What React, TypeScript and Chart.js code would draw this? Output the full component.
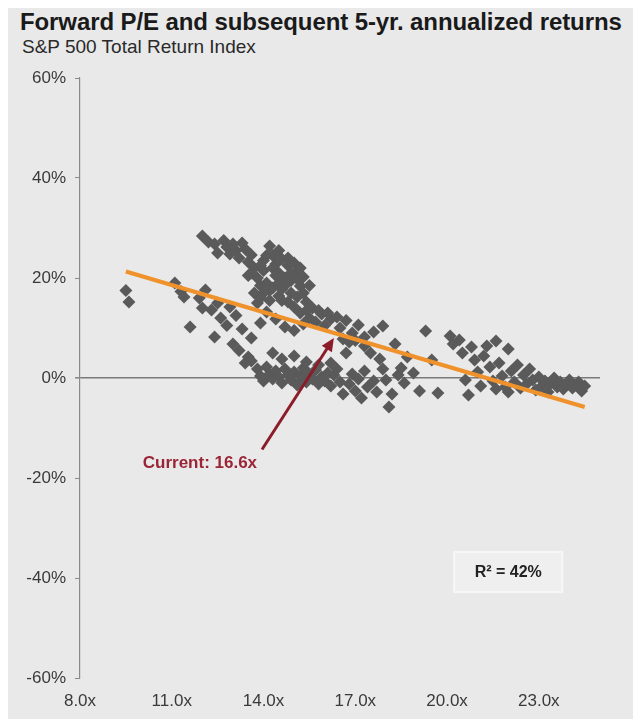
import React, { useEffect, useRef } from "react";
import { Chart, registerables } from "chart.js";

Chart.register(...registerables);

// Forward P/E (x) and subsequent 5-yr annualized return in % (y)
const peX = [
  9.5, 9.6,
  11.1, 11.3, 11.4, 11.6, 11.9, 12.1, 12.0, 12.3, 12.4, 12.5, 12.6, 12.8, 12.9, 13.0, 13.1, 13.2, 13.3, 13.5, 13.6, 13.4,
  12.0, 12.2, 12.4, 12.5, 12.7, 12.8, 12.9, 13.0, 13.1, 13.2, 13.3, 13.4, 13.5, 13.6, 13.7, 13.5, 13.8, 13.9, 14.0, 14.1,
  14.2, 14.3, 14.4, 14.5, 14.6, 14.7, 14.8, 14.9, 15.0, 15.1, 15.2, 15.3, 14.0, 14.2, 14.3, 14.5, 14.6, 14.8, 14.9, 15.0,
  15.1, 15.2, 15.4, 15.5, 15.6, 15.7, 15.9, 16.0, 13.8, 14.1, 13.9, 14.4, 14.7, 15.0, 15.3, 16.2, 16.4, 16.5, 16.7, 16.9,
  17.1, 17.3, 17.0, 16.8,
  14.0, 14.3, 14.5, 14.7, 14.9, 15.1, 14.4, 14.6, 14.2, 13.9, 13.7, 15.3, 15.5, 14.8, 14.5, 14.1, 13.9, 13.6, 15.2, 15.4,
  15.8, 16.1,
  13.6, 13.8, 13.9, 14.0, 14.1, 14.2, 14.3, 14.4, 14.5, 14.6, 14.7, 14.8, 14.9, 15.0, 15.1, 15.2, 15.3, 15.4, 15.5, 15.6,
  15.7, 15.8, 15.9, 16.0, 16.1, 16.2, 16.3, 14.3, 14.6, 15.0, 15.4, 15.8, 16.2, 16.5, 16.4,
  16.6, 16.8, 16.9, 17.0, 17.1, 17.2, 17.3, 17.4, 17.6, 17.7, 17.3, 17.5, 17.6, 17.8, 17.9, 17.9, 18.0, 18.1, 18.2, 18.3,
  18.4, 18.5, 18.6, 18.7, 18.9, 19.1, 19.3, 19.5, 19.7, 16.7, 16.6,
  20.1, 20.2, 20.4, 20.5, 20.6, 20.7, 20.8, 20.9, 21.0, 21.1, 21.2, 21.3, 21.4, 21.5, 21.6, 21.7, 21.8, 21.9, 22.0, 22.1,
  22.2, 22.3, 22.4, 22.5, 22.6, 22.7, 22.8, 22.9, 23.0, 23.1, 23.2, 23.3, 23.4, 23.5, 23.6, 23.7, 23.8, 23.9, 24.0, 24.1,
  24.2, 24.3, 24.4, 24.5, 22.0, 21.6,
];

const ret5y = [
  17.5, 15.2,
  19.0, 17.3, 16.2, 10.2, 16.0, 17.6, 14.0, 13.6, 8.2, 15.0, 12.0, 10.5, 14.2, 6.8, 12.5, 5.5, 9.8, 4.2, 8.0, 3.0,
  28.4, 27.2, 26.8, 25.0, 27.5, 26.2, 24.8, 26.8, 25.5, 24.0, 27.0, 25.8, 23.2, 24.6, 22.0, 20.5, 20.0, 18.5, 21.5, 19.0,
  26.4, 24.5, 22.8, 21.0, 23.8, 20.0, 22.5, 19.5, 23.0, 21.2, 18.4, 20.2, 17.0, 15.5, 18.0, 16.4, 17.8, 15.2, 17.0, 14.2,
  16.2, 13.0, 15.2, 12.0, 14.0, 11.2, 12.8, 10.5, 15.0, 13.2, 11.0, 11.8, 10.2, 9.5, 10.8, 11.8, 12.2, 10.0, 11.5, 9.0,
  10.6, 8.2, 7.5, 7.2,
  23.5, 22.0, 19.0, 18.5, 21.0, 19.8, 20.5, 15.5, 17.5, 16.0, 17.0, 17.0, 18.5, 24.0, 25.5, 24.5, 22.5, 21.0, 22.0, 13.5,
  13.5, 13.0,
  3.4, 1.8, 0.4, -0.6, 2.2, 0.8, -0.2, 1.4, 0.2, -1.0, 1.8, 0.6, -0.4, 1.2, -1.4, 0.4, 2.0, -0.8, 0.8, -0.2,
  1.6, -1.2, 0.2, -0.6, 1.0, -1.6, 0.6, 5.0, 3.8, 4.4, 3.2, 2.6, 3.0, -0.8, 1.8,
  -3.2, -1.2, 0.8, -2.6, -0.2, -4.0, 1.4, -1.8, -0.6, -2.8, 6.4, 5.0, 9.2, 3.8, 10.4, 1.8, -0.4, -5.8, -3.2, 6.8,
  0.6, 2.0, -1.0, 4.2, 1.0, -2.6, 9.4, 3.6, -3.0, 5.0, 7.8,
  8.4, 6.8, 7.6, 5.0, -0.4, -3.4, 6.2, 3.6, 1.2, -1.6, 4.4, 6.4, 2.2, -0.6, 7.4, 3.0, 0.4, -1.8, 5.8, 1.4,
  -0.8, 2.6, -2.0, 0.6, -1.2, 1.8, -0.4, -2.4, 0.2, -1.6, -0.6, -2.8, -1.0, 0.0, -1.8, -0.8, -2.2, -1.2, -0.4, -2.0,
  -1.4, -0.8, -2.6, -1.6, -2.8, -2.2,
];

// Regression line end points
const fitX = [9.5, 24.5];
const fitY = [21.3, -5.8];

const xTicks = [8, 11, 14, 17, 20, 23];
const yTicks = [-60, -40, -20, 0, 20, 40, 60];

const titleText = "Forward P/E and subsequent 5-yr. annualized returns";
const subtitleText = "S&P 500 Total Return Index";

// Annotation (data coordinates)
const currentLabel = "Current: 16.6x";
const currentLabelAt = [11.92, -17];
const arrowFrom = [13.95, -14.3];
const arrowTo = [16.3, 8.0];
const rSquaredLabel = "R² = 42%";
const rSquaredAt = [22.0, -38.8];

const FONT = "'Liberation Sans', Arial, Helvetica, sans-serif";

const annotationPlugin = {
  id: "pePlotAnnotations",
  afterDatasetsDraw(chart: any) {
    const ctx = chart.ctx;
    const xs = chart.scales.x;
    const ys = chart.scales.y;
    ctx.save();

    // arrow
    const x1 = xs.getPixelForValue(arrowFrom[0]);
    const y1 = ys.getPixelForValue(arrowFrom[1]);
    const x2 = xs.getPixelForValue(arrowTo[0]);
    const y2 = ys.getPixelForValue(arrowTo[1]);
    const ang = Math.atan2(y2 - y1, x2 - x1);
    const headLen = 13;
    const headW = 6;
    const color = "#8c1c2a";
    ctx.strokeStyle = color;
    ctx.fillStyle = color;
    ctx.lineWidth = 3;
    ctx.beginPath();
    ctx.moveTo(x1, y1);
    ctx.lineTo(x2 - Math.cos(ang) * headLen * 0.8, y2 - Math.sin(ang) * headLen * 0.8);
    ctx.stroke();
    ctx.beginPath();
    ctx.moveTo(x2, y2);
    ctx.lineTo(
      x2 - Math.cos(ang) * headLen - Math.sin(ang) * headW,
      y2 - Math.sin(ang) * headLen + Math.cos(ang) * headW
    );
    ctx.lineTo(
      x2 - Math.cos(ang) * headLen + Math.sin(ang) * headW,
      y2 - Math.sin(ang) * headLen - Math.cos(ang) * headW
    );
    ctx.closePath();
    ctx.fill();

    // current label
    ctx.font = `bold 17px ${FONT}`;
    ctx.fillStyle = "#9a2536";
    ctx.textAlign = "center";
    ctx.textBaseline = "middle";
    ctx.fillText(
      currentLabel,
      xs.getPixelForValue(currentLabelAt[0]),
      ys.getPixelForValue(currentLabelAt[1])
    );

    // R² box
    const bx = xs.getPixelForValue(rSquaredAt[0]);
    const by = ys.getPixelForValue(rSquaredAt[1]);
    const bw = 108;
    const bh = 40;
    ctx.fillStyle = "#efefef";
    ctx.fillRect(bx - bw / 2, by - bh / 2, bw, bh);
    ctx.strokeStyle = "#f7f7f7";
    ctx.lineWidth = 2;
    ctx.strokeRect(bx - bw / 2, by - bh / 2, bw, bh);
    ctx.font = `bold 16px ${FONT}`;
    ctx.fillStyle = "#222222";
    ctx.fillText(rSquaredLabel, bx, by + 1);

    ctx.restore();
  },
};

export default function App() {
  const canvasRef = useRef<HTMLCanvasElement | null>(null);

  useEffect(() => {
    if (!canvasRef.current) return;
    const chart = new Chart(canvasRef.current, {
      type: "scatter",
      data: {
        datasets: [
          {
            type: "line",
            label: "Fit",
            data: fitX.map((x, i) => ({ x, y: fitY[i] })),
            borderColor: "#f0922b",
            borderWidth: 4,
            pointRadius: 0,
            fill: false,
            order: 0,
          } as any,
          {
            label: "Forward P/E vs 5-yr return",
            data: peX.map((x, i) => ({ x, y: ret5y[i] })),
            pointStyle: "rectRot",
            pointRadius: 6.5,
            backgroundColor: "#5a5a5a",
            borderWidth: 0,
            order: 1,
          },
        ],
      },
      options: {
        animation: false,
        responsive: false,
        layout: { padding: { top: 78, right: 41, bottom: 0, left: 0 } },
        plugins: {
          legend: { display: false },
          tooltip: { enabled: false },
        },
        scales: {
          x: {
            type: "linear",
            min: 8,
            max: 25,
            afterBuildTicks: (s: any) => {
              s.ticks = xTicks.map((v) => ({ value: v }));
            },
            afterFit: (s: any) => {
              s.height = 41;
            },
            ticks: {
              callback: (v: any) => Number(v).toFixed(1) + "x",
              font: { size: 17, family: FONT },
              color: "#3a3a3a",
              padding: 13,
              maxRotation: 0,
              autoSkip: false,
            },
            grid: { display: false, drawTicks: false },
            border: { display: false },
          },
          y: {
            type: "linear",
            min: -60,
            max: 60,
            afterBuildTicks: (s: any) => {
              s.ticks = yTicks.map((v) => ({ value: v }));
            },
            afterFit: (s: any) => {
              s.width = 72;
            },
            ticks: {
              callback: (v: any) => v + "%",
              font: { size: 17, family: FONT },
              color: "#3a3a3a",
              padding: 9,
            },
            grid: {
              drawTicks: true,
              tickLength: 5,
              tickColor: "#8a8a8a",
              color: (c: any) => (c.tick && c.tick.value === 0 ? "#7a7a7a" : "rgba(0,0,0,0)"),
              lineWidth: (c: any) => (c.tick && c.tick.value === 0 ? 1.6 : 1),
            },
            border: { display: true, color: "#8a8a8a", width: 1.2 },
          },
        },
      },
      plugins: [annotationPlugin],
    } as any);
    return () => chart.destroy();
  }, []);

  return (
    <div
      style={{
        position: "relative",
        width: 633,
        height: 719,
        marginTop: -8,
        background: "#e9e9e9",
        overflow: "hidden",
      }}
    >
      <div
        style={{
          position: "absolute",
          left: 12,
          top: 10,
          font: `bold 24px ${FONT}`,
          lineHeight: "24px",
          color: "#1a1a1a",
          whiteSpace: "nowrap",
          letterSpacing: "-0.1px",
        }}
      >
        {titleText}
      </div>
      <div
        style={{
          position: "absolute",
          left: 14,
          top: 37,
          font: `19px ${FONT}`,
          lineHeight: "20px",
          color: "#2a2a2a",
          whiteSpace: "nowrap",
        }}
      >
        {subtitleText}
      </div>
      <canvas
        ref={canvasRef}
        width={633}
        height={719}
        style={{ position: "absolute", left: 0, top: 0, width: 633, height: 719 }}
      />
    </div>
  );
}
